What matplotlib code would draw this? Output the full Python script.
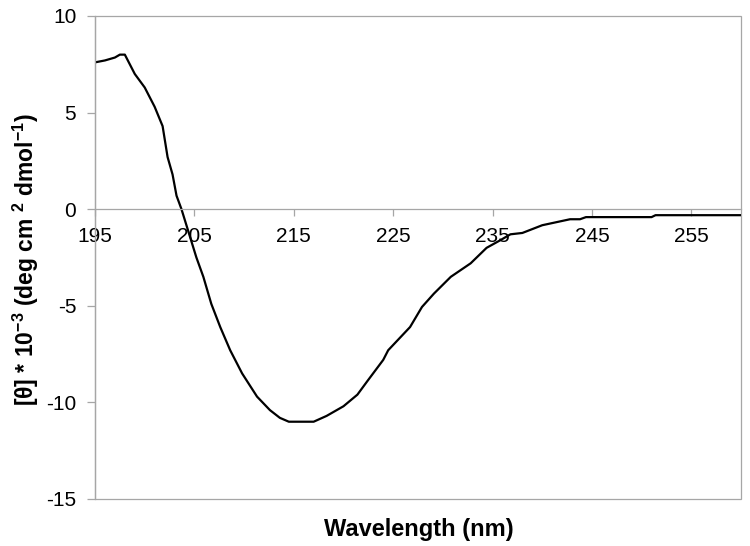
import matplotlib
matplotlib.use("Agg")
import matplotlib.pyplot as plt
from matplotlib.patches import Rectangle

# CD spectrum, values
wavelength = [195, 196, 197, 197.5, 198, 199, 200, 201, 201.8, 202.3, 202.8, 203.2,
              203.7, 204.6, 205.2, 205.9, 206.7, 207.6, 208.6, 209.8, 211.3, 212.6,
              213.6, 214.5, 217, 218.3, 220, 221.4, 222.4, 224, 224.5, 226.7, 227.9,
              229.1, 230.8, 232.8, 234.4, 235.8, 236.8, 238, 240, 242.8, 243.8, 244.4,
              251, 251.4, 260]
ellipticity = [7.6, 7.7, 7.85, 8.0, 8.0, 7.0, 6.3, 5.3, 4.3, 2.7, 1.8, 0.7,
               0.0, -1.5, -2.5, -3.5, -4.9, -6.1, -7.3, -8.5, -9.7, -10.4,
               -10.8, -11.0, -11.0, -10.7, -10.2, -9.6, -8.9, -7.8, -7.3, -6.1, -5.06,
               -4.37, -3.5, -2.8, -2.0, -1.6, -1.3, -1.23, -0.83, -0.52, -0.52, -0.41,
               -0.41, -0.31, -0.31]

x_ticks = [195, 205, 215, 225, 235, 245, 255]
y_ticks = [-15, -10, -5, 0, 5, 10]

gray = "#a6a6a6"
plt.rcParams["font.family"] = ["Liberation Sans", "DejaVu Sans"]
plt.rcParams["mathtext.fontset"] = "custom"
plt.rcParams["mathtext.rm"] = "Liberation Sans"
plt.rcParams["mathtext.bf"] = "Liberation Sans:bold"
plt.rcParams["axes.unicode_minus"] = False

fig = plt.figure(figsize=(7.5, 5.46), dpi=100)
ax = fig.add_axes([0.1267, 0.0861, 0.8613, 0.8846])

ax.plot(wavelength, ellipticity, color="black", lw=1.6)

ax.set_xlim(195, 260)
ax.set_ylim(-15, 10)
ax.set_xticks(x_ticks)
ax.set_yticks(y_ticks)

# x axis crosses at zero, frame drawn as a box
ax.spines["bottom"].set_position(("data", 0))
ax.spines["top"].set_visible(False)
ax.spines["right"].set_visible(False)
for s in ["bottom", "left"]:
    ax.spines[s].set_color(gray)
    ax.spines[s].set_linewidth(0.9)
ax.add_patch(Rectangle((0, 0), 1, 1, transform=ax.transAxes, fill=False,
                       edgecolor=gray, lw=0.9, clip_on=False, zorder=0))

ax.tick_params(axis="x", direction="out", length=5, width=0.9, color=gray,
               labelsize=15, pad=7.5)
ax.tick_params(axis="y", direction="out", length=6, width=0.9, color=gray,
               labelsize=15, pad=7.5)

# axis titles placed in figure coords (Excel-style layout)
fig.text(0.035, 0.524,
         r"[θ] * 10$^{\mathbf{-3}}$ (deg cm $^{\mathbf{2}}$ dmol$^{\mathbf{-1}}$)",
         rotation=90, ha="center", va="center", fontsize=16.5, fontweight="bold")
fig.text(0.558, 0.031, "Wavelength (nm)", ha="center", va="center",
         fontsize=17, fontweight="bold")

fig.savefig("out.png", dpi=100)
